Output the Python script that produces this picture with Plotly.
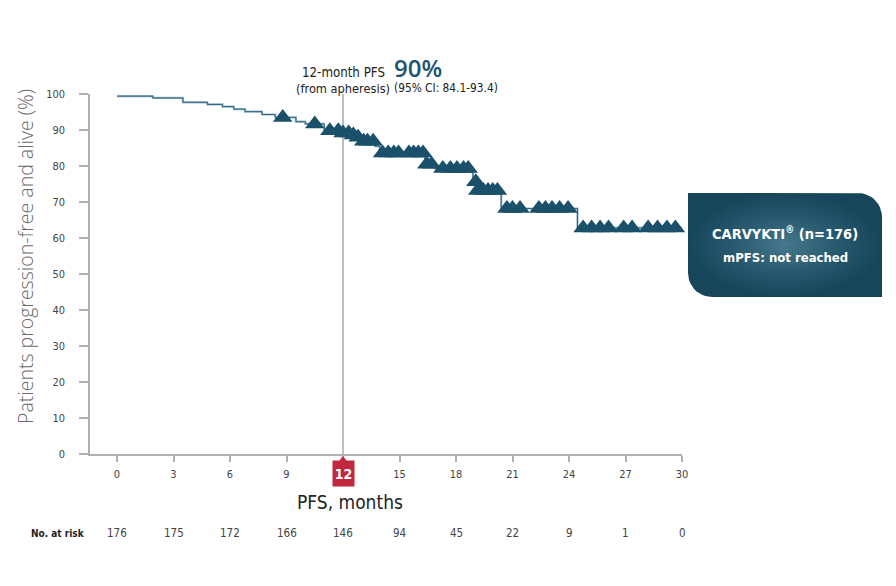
import numpy as np
import plotly.graph_objects as go

# Kaplan-Meier step curve (months, % progression-free and alive)
step_months = [0, 1.9, 3.5, 4.8, 5.6, 6.2, 6.8, 7.7, 8.4, 9.5, 10.0, 11.0, 11.9, 12.4,
               12.7, 13.0, 13.7, 13.95, 16.35, 16.9, 18.9, 19.1, 20.4, 24.45, 30.0]
step_pfs = [99.4, 98.9, 97.7, 97.1, 96.5, 95.8, 95.1, 94.3, 93.5, 92.3, 91.7, 89.8, 89.2, 88.6,
            88.0, 86.9, 85.5, 83.6, 80.5, 79.3, 75.6, 73.2, 68.2, 62.8, 62.8]

# censored observations (months)
censor_months = [8.8, 10.5, 11.3, 11.75, 12.0, 12.3, 12.55, 12.8, 13.1, 13.3, 13.6,
                 14.1, 14.4, 14.7, 14.95, 15.5, 15.75, 16.0, 16.25,
                 16.45, 16.7,
                 17.3, 17.7, 18.05, 18.4, 18.65,
                 19.05,
                 19.15, 19.45, 19.7, 19.95, 20.2,
                 20.7, 21.0, 21.4, 22.4, 22.75, 23.1, 23.5, 23.95,
                 24.75, 25.2, 25.65, 26.1, 26.9, 27.35, 28.2, 28.7, 29.2, 29.65]

x_ticks = [0, 3, 6, 9, 12, 15, 18, 21, 24, 27, 30]
at_risk = [176, 175, 172, 166, 146, 94, 45, 22, 9, 1, 0]
y_ticks = [0, 10, 20, 30, 40, 50, 60, 70, 80, 90, 100]

# censor marks sit on the step curve
idx = np.searchsorted(step_months, censor_months, side="right") - 1
censor_pfs = [step_pfs[i] for i in idx]

FONT = "Liberation Sans Narrow, DejaVu Sans Condensed, Arial Narrow, sans-serif"
TEAL = "#1a5069"
W, H = 896, 586
X0, X1, Y0, Y1 = 90, 682, 94, 454     # plot area in px
XMIN = -1.434

fig = go.Figure()

# light underlay + dark line
fig.add_trace(go.Scatter(x=step_months, y=step_pfs, mode="lines", line_shape="hv",
                         line=dict(color="#9bb8ca", width=2.2), hoverinfo="skip"))
fig.add_trace(go.Scatter(x=step_months, y=step_pfs, mode="lines", line_shape="hv",
                         line=dict(color="#2f6580", width=1), hoverinfo="skip"))
fig.add_trace(go.Scatter(x=censor_months, y=censor_pfs, mode="markers",
                         marker=dict(symbol="triangle-up", size=17, color=TEAL,
                                     line=dict(width=0)),
                         cliponaxis=False, hoverinfo="skip"))

# 12-month reference line
fig.add_shape(type="line", xref="x", yref="y", x0=12, x1=12, y0=0, y1=100.5,
              line=dict(color="#a8a8a8", width=1.5), layer="below")


def px_x(m):
    return X0 + (m - XMIN) * (X1 - X0) / (30 - XMIN)


# label box with rounded top-right and bottom-left corners (pixel overlay axes)
bx0, bx1, by0, by1, r = 688, 882, 193, 297, 24
t = np.linspace(0, np.pi / 2, 12)
pts_x = [bx0, bx1 - r] + list(bx1 - r + r * np.sin(t)) + [bx1, bx0 + r] + \
        list(bx0 + r - r * np.sin(t)) + [bx0]
pts_y = [by0, by0] + list(by0 + r - r * np.cos(t)) + [by1, by1] + \
        list(by1 - r + r * np.cos(t)) + [by0]
fig.add_trace(go.Scatter(x=pts_x, y=pts_y, mode="lines", fill="toself",
                         line=dict(width=0, color="#1a4a60"),
                         fillgradient=dict(type="radial",
                                           colorscale=[[0, "#46788d"], [0.55, "#27586e"], [1, "#17465b"]]),
                         xaxis="x2", yaxis="y2", hoverinfo="skip"))

# notch above the red "12" tag
fig.add_trace(go.Scatter(x=[px_x(12)], y=[460], mode="markers",
                         marker=dict(symbol="triangle-up", size=8, color="#c1283d"),
                         xaxis="x2", yaxis="y2", hoverinfo="skip"))


def note(text, x, y, xref="paper", xanchor="center", **font):
    return dict(text=text, x=x, xref=xref, y=1 - y / H, yref="paper",
                xanchor=xanchor, yanchor="middle", showarrow=False, font=font)


ann = []
tag = note("<b>12</b>", 12, 473.5, xref="x", family=FONT, size=14, color="white")
tag.update(bgcolor="#c1283d", width=21, height=25, borderpad=0)
ann.append(tag)
ann.append(note("12-month PFS", 12, 73, xref="x", family=FONT, size=13.2, color="#222"))
ann.append(note("(from apheresis)", 12, 88, xref="x", family=FONT, size=12.7, color="#222"))
ann.append(note("90%", 392 / W, 68, xanchor="left",
                family="Open Sans, sans-serif", size=24, color="#1d5470", weight=600))
ann.append(note("(95% CI: 84.1-93.4)", 392 / W, 88, xanchor="left",
                family=FONT, size=11.8, color="#222"))
ann.append(note("<b>CARVYKTI<sup>®</sup> (n=176)</b>", 785 / W, 233,
                family=FONT, size=14.5, color="white"))
ann.append(note("<b>mPFS: not reached</b>", 785 / W, 257,
                family=FONT, size=13, color="white"))
yt = note("Patients progression-free and alive (%)", 25 / W, 257,
          family="Open Sans, sans-serif", size=19.5, color="#6a6a6a", weight=300)
yt.update(textangle=-90)
ann.append(yt)
ann.append(note("PFS, months", 350 / W, 502, family=FONT, size=19, color="#222"))
ann.append(note("<b>No. at risk</b>", 87 / W, 533, xanchor="right",
                family=FONT, size=10, color="#222"))
for m, n in zip(x_ticks, at_risk):
    ann.append(note(str(n), m, 533, xref="x", family=FONT, size=11.5, color="#444"))

fig.update_layout(
    template="none",
    width=W, height=H, margin=dict(l=0, r=0, t=0, b=0, pad=0),
    paper_bgcolor="white", plot_bgcolor="rgba(0,0,0,0)", showlegend=False,
    xaxis=dict(domain=[X0 / W, X1 / W], range=[XMIN, 30], anchor="y", automargin=False,
               tickvals=x_ticks, ticktext=["" if v == 12 else str(v) for v in x_ticks],
               ticks="outside", ticklen=6, tickcolor="#b0b0b0", tickwidth=1.5,
               showline=True, linecolor="#b0b0b0", linewidth=1.5, showgrid=False,
               zeroline=False, ticklabelstandoff=3,
               tickfont=dict(family=FONT, size=11, color="#444")),
    yaxis=dict(domain=[1 - Y1 / H, 1 - Y0 / H], range=[0, 100], anchor="x", automargin=False,
               tickvals=y_ticks, ticks="outside", ticklen=9, tickcolor="#b0b0b0",
               tickwidth=1.5, showline=True, linecolor="#b0b0b0", linewidth=1.5,
               showgrid=False, zeroline=False, ticklabelstandoff=12,
               tickfont=dict(family=FONT, size=11, color="#444")),
    xaxis2=dict(domain=[0, 1], range=[0, W], anchor="y2", visible=False,
                fixedrange=True, automargin=False),
    yaxis2=dict(domain=[0, 1], range=[H, 0], anchor="x2", visible=False,
                fixedrange=True, automargin=False),
    annotations=ann,
)

# drop the default body margin so the figure sits at the window's top-left corner
fig.write_html("out.html", config={"displayModeBar": False},
               post_script="document.body.style.margin='0';")
